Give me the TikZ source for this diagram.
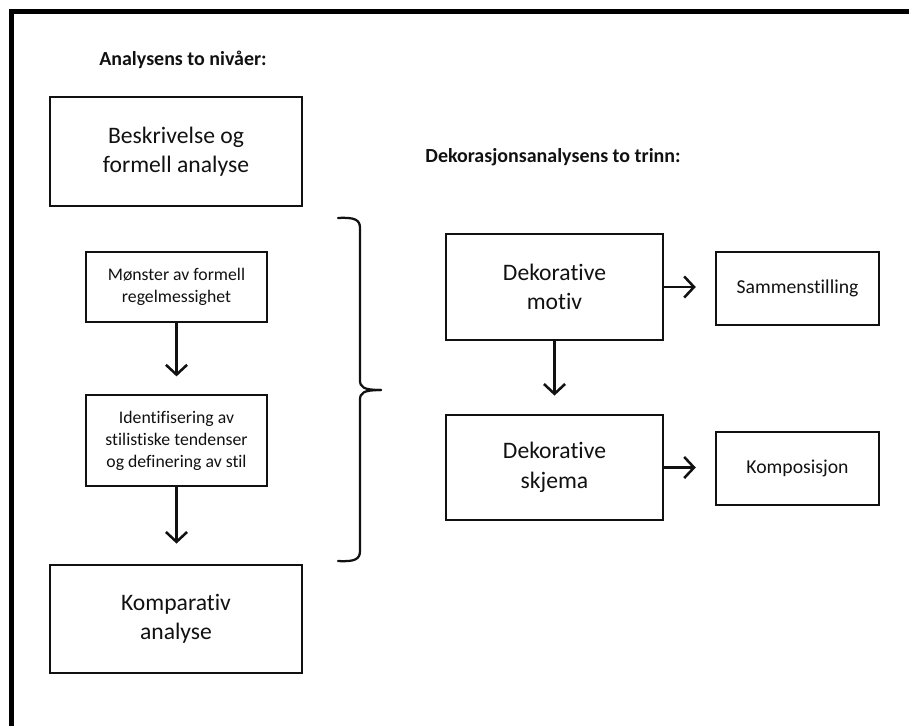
\documentclass[tikz,border=0pt]{standalone}
\usepackage{fontspec}
\setmainfont{Carlito}[Ligatures={NoCommon}]
\usepackage{tikz}
\usetikzlibrary{positioning,arrows.meta,calc}
\definecolor{inkBlack}{HTML}{111111}
\definecolor{frameBlack}{HTML}{000000}
\tikzset{
  bigbox/.style={draw=inkBlack, line width=2pt, align=center, text=inkBlack,
                 font=\fontsize{16.8}{21}\selectfont, inner sep=4pt},
  smallbox/.style={draw=inkBlack, line width=2pt, align=center, text=inkBlack,
                   font=\fontsize{12.6}{15.6}\selectfont, inner sep=4pt},
  sidebox/.style={draw=inkBlack, line width=2pt, align=center, text=inkBlack,
                  font=\fontsize{14}{16}\selectfont, minimum width=4.075cm,
                  minimum height=1.825cm},
  headtext/.style={font=\bfseries\fontsize{14.2}{16}\selectfont, text=inkBlack},
  flowarrow/.style={-{Straight Barb[length=7pt, width=15pt, line width=1.8pt]},
                    line width=1.7pt, inkBlack},
  bracestroke/.style={line width=1.6pt, inkBlack, line cap=round},
  framestroke/.style={line width=3.3pt, frameBlack},
}
\begin{document}
\begin{tikzpicture}[x=0.025cm, y=-0.025cm]
\useasboundingbox (0,0) rectangle (909,726);
%% Frame
\draw[framestroke] (11.5,726) -- (11.5,11.5) -- (909,11.5);
%% Left column
\node[headtext] (head1) at (183,60) {Analysens to nivåer:};
\node[bigbox, minimum width=6.3cm, minimum height=2.725cm] (beskr) at (176,151.5) {Beskrivelse og\\formell analyse};
\node[smallbox, minimum width=4.525cm, minimum height=1.75cm] (monster) at (176.5,287) {Mønster av formell\\regelmessighet};
\node[smallbox, minimum width=4.525cm, minimum height=2.275cm] (ident) at (176.5,440.5) {Identifisering av\\stilistiske tendenser\\og definering av stil};
\node[bigbox, minimum width=6.3cm, minimum height=2.7cm] (kompar) at (176,619) {Komparativ\\analyse};
%% Right column
\node[headtext] (head2) at (553,157) {Dekorasjonsanalysens to trinn:};
\node[bigbox, minimum width=5.425cm, minimum height=2.65cm] (motiv) at (554.5,287) {Dekorative\\motiv};
\node[sidebox] (samm) at (797.5,288.5) {Sammenstilling};
\node[bigbox, minimum width=5.425cm, minimum height=2.625cm] (skjema) at (554.5,467.5) {Dekorative\\skjema};
\node[sidebox] (kompo) at (797.5,468.5) {Komposisjon};
%% Brace
\coordinate (bracetip) at (381,390);
\draw[bracestroke] (338,218) .. controls (355,217) and (360,220) .. (360,228)
  -- (360,380) .. controls (360,387) and (363,390) .. (bracetip);
\draw[bracestroke] (338,561) .. controls (355,562) and (360,559) .. (360,551)
  -- (360,400) .. controls (360,393) and (363,390) .. (bracetip);
%% Arrows
\draw[flowarrow, shorten >=0.43cm] (monster.south) -- (monster.south |- ident.north);
\draw[flowarrow, shorten >=0.5cm] (ident.south) -- (ident.south |- kompar.north);
\draw[flowarrow, shorten >=0.45cm] (motiv.south) -- (motiv.south |- skjema.north);
\draw[flowarrow, shorten >=0.47cm] (motiv.east) -- (motiv.east -| samm.west);
\draw[flowarrow, shorten >=0.47cm] (skjema.east) -- (skjema.east -| kompo.west);
\end{tikzpicture}
\end{document}
